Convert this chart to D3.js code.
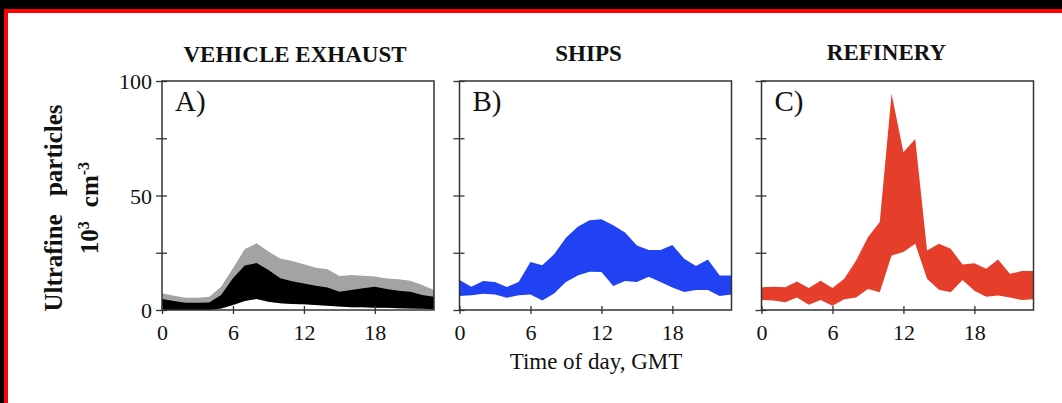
<!DOCTYPE html>
<html lang="en">
<head>
<meta charset="utf-8">
<script src="https://cdn.jsdelivr.net/npm/d3@7"></script>
<style>
body { margin: 0; background: #000; }
svg text { font-family: "Liberation Serif", "Times New Roman", serif; fill: #111; }
.title { font-weight: bold; font-size: 23px; }
.tick text { font-size: 22px; }
.letter { font-size: 29px; }
.ylab { font-weight: bold; font-size: 25px; }
</style>
</head>
<body>
<div id="chart"></div>
<script>

// hours of the day
var hours = [0,1,2,3,4,5,6,7,8,9,10,11,12,13,14,15,16,17,18,19,20,21,22,23];

// A) vehicle exhaust: gray upper band, black band
var vehicleHigh = [7.3, 6.2, 5.4, 5.4, 5.8, 10.2, 18.2, 26.6, 29.1, 25.5, 22.5, 21.4, 20.0, 18.5, 17.8, 14.9, 15.3, 15.0, 14.6, 13.8, 13.4, 12.8, 10.9, 8.7];
var vehicleMid  = [4.8, 3.9, 3.2, 3.2, 3.3, 6.6, 13.9, 19.4, 20.5, 17.5, 13.9, 12.6, 11.6, 10.6, 9.8, 8.0, 8.7, 9.5, 10.1, 9.2, 8.4, 8.0, 6.6, 5.8];
var vehicleLow  = [0, 0, 0, 0, 0, 0.7, 2.2, 3.9, 4.8, 3.6, 2.9, 2.6, 2.5, 2.2, 1.9, 1.5, 1.2, 1.2, 1.0, 1.0, 0.8, 0.7, 0.5, 0.3];

// B) ships
var shipsHigh = [13.1, 10.2, 12.7, 12.2, 10.0, 12.2, 21.0, 19.5, 24.3, 31.6, 36.4, 39.2, 39.6, 37.0, 33.8, 28.2, 26.2, 26.2, 28.4, 22.4, 19.2, 22.1, 15.1, 15.1];
var shipsLow  = [6.1, 6.4, 7.1, 6.8, 5.4, 6.4, 6.8, 4.2, 7.2, 12.2, 15.1, 16.7, 16.6, 10.5, 12.7, 12.2, 14.5, 12.2, 9.8, 7.9, 8.7, 8.7, 6.1, 6.8];

// C) refinery
var refineryHigh = [9.9, 10.2, 9.9, 12.4, 9.6, 12.8, 9.6, 13.6, 21.6, 31.8, 38.4, 94.4, 68.9, 74.7, 26.0, 28.9, 26.7, 19.9, 20.4, 18.0, 22.1, 15.8, 17.0, 17.0];
var refineryLow  = [4.4, 4.1, 3.4, 5.5, 2.3, 4.4, 1.9, 4.7, 5.5, 9.2, 7.7, 23.8, 25.3, 28.9, 13.6, 8.8, 7.7, 13.1, 8.4, 5.8, 6.3, 5.5, 4.4, 4.7];

var titles = ["VEHICLE EXHAUST", "SHIPS", "REFINERY"];
var letters = ["A)", "B)", "C)"];
var xTicks = [0, 6, 12, 18];
var yTicks = [0, 25, 50, 75, 100];
var yLabelLine1 = "Ultrafine particles";

var W = 1062, H = 403;
var panelLeft = [162, 459.5, 761.5],
    panelW = 272,
    plotTop = 81, plotBottom = 310;

var svg = d3.select("#chart").append("svg")
    .attr("width", W)
    .attr("height", H);

// black page, red frame, white paper
svg.append("rect").attr("width", W).attr("height", H).attr("fill", "#000");
svg.append("rect").attr("x", 4).attr("y", 9).attr("width", W).attr("height", H).attr("fill", "#ff0000");
svg.append("rect").attr("x", 8).attr("y", 13).attr("width", W).attr("height", H).attr("fill", "#fff");

var y = d3.scaleLinear().domain([0, 100]).range([plotBottom, plotTop]);

var panels = [
  {bands: [
     {lo: vehicleLow, hi: vehicleHigh, color: "#a3a3a3"},
     {lo: vehicleLow, hi: vehicleMid, color: "#000"}]},
  {bands: [{lo: shipsLow, hi: shipsHigh, color: "#2142f2"}]},
  {bands: [{lo: refineryLow, hi: refineryHigh, color: "#e53f2b"}]}
];

panels.forEach(function(p, i) {
  var x = d3.scaleLinear().domain([0, 23]).range([panelLeft[i], panelLeft[i] + panelW]);

  p.bands.forEach(function(b) {
    var area = d3.area()
        .x(function(d, j) { return x(hours[j]); })
        .y0(function(d, j) { return y(b.lo[j]); })
        .y1(function(d, j) { return y(b.hi[j]); });
    svg.append("path")
        .datum(hours)
        .attr("d", area)
        .attr("fill", b.color);
  });

  // frame
  svg.append("rect")
      .attr("x", panelLeft[i]).attr("y", plotTop)
      .attr("width", panelW).attr("height", plotBottom - plotTop)
      .attr("fill", "none")
      .attr("stroke", "#333")
      .attr("stroke-width", 1.5);

  // y axis
  var ya = svg.append("g")
      .attr("transform", "translate(" + panelLeft[i] + ",0)")
      .call(d3.axisLeft(y).tickValues(yTicks)
        .tickFormat(function(d) { return (i == 0 && d % 50 == 0) ? d : ""; }));
  ya.select(".domain").remove();
  ya.selectAll(".tick line").attr("x1", -6).attr("x2", 5).attr("stroke", "#333").attr("stroke-width", 1.3);
  ya.selectAll(".tick text").attr("x", -10).attr("dy", "0.35em").attr("fill", "#222");

  // x axis
  var xa = svg.append("g")
      .attr("transform", "translate(0," + plotBottom + ")")
      .call(d3.axisBottom(x).tickValues(xTicks).tickFormat(d3.format("d")));
  xa.select(".domain").remove();
  xa.selectAll(".tick line").attr("y1", -4).attr("y2", 4).attr("stroke", "#333").attr("stroke-width", 1.3);
  xa.selectAll(".tick text").attr("y", 30).attr("dy", 0).attr("fill", "#222");

  svg.append("text")
      .attr("class", "title")
      .attr("x", panelLeft[i] + panelW / 2 - 3 - 4 * i)
      .attr("y", 62 - i)
      .attr("text-anchor", "middle")
      .text(titles[i]);

  svg.append("text")
      .attr("class", "letter")
      .attr("x", panelLeft[i] + 13)
      .attr("y", 111)
      .text(letters[i]);
});

// y axis label, two rotated lines
svg.append("text")
    .attr("class", "ylab")
    .attr("transform", "translate(62,208) rotate(-90)")
    .attr("text-anchor", "middle")
    .style("word-spacing", "12px")
    .text(yLabelLine1);

var l2 = svg.append("text")
    .attr("class", "ylab")
    .attr("transform", "translate(98,208) rotate(-90)")
    .attr("text-anchor", "middle");
l2.append("tspan").text("10");
l2.append("tspan").attr("dy", -9).style("font-size", "16px").text("3");
l2.append("tspan").attr("dy", 9).attr("dx", 14).text("cm");
l2.append("tspan").attr("dy", -9).style("font-size", "16px").text("-3");

svg.append("text")
    .attr("x", 596)
    .attr("y", 369)
    .attr("text-anchor", "middle")
    .style("font-size", "23px")
    .text("Time of day, GMT");

</script>
</body>
</html>
